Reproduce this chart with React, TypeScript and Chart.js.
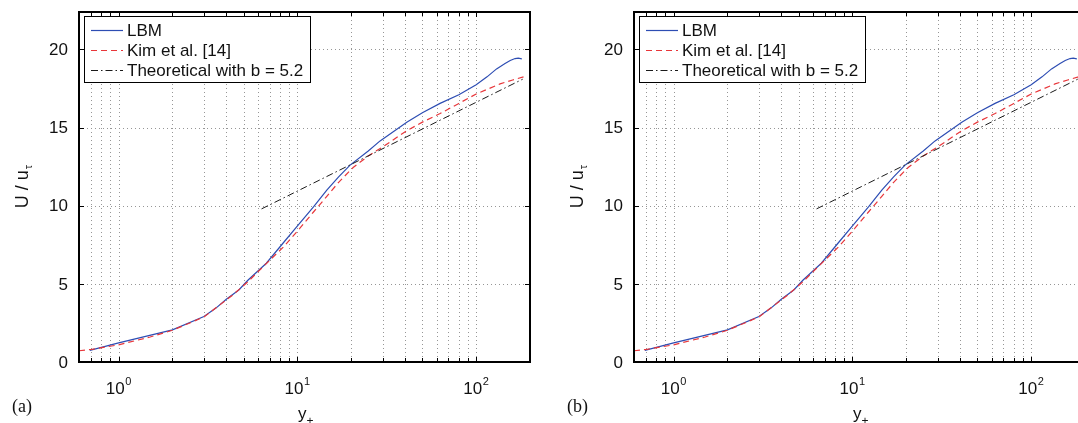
import React, { useEffect, useRef } from 'react';
import { Chart, registerables } from 'chart.js';

Chart.register(...registerables);

// ---- Data ----
const lbmX = [0.69, 1, 2, 3, 3.5, 4, 4.7, 5.3, 6.7, 8.3, 9.9, 12.3, 14.6, 17, 19.7, 24.9, 29, 35, 40.9, 50, 62.8, 80, 100, 115, 130, 145, 155, 165, 172, 180];
const lbmY = [0.74, 1.22, 2.06, 2.91, 3.45, 4.02, 4.61, 5.25, 6.32, 7.6, 8.65, 9.93, 11.0, 11.85, 12.6, 13.5, 14.15, 14.8, 15.35, 15.95, 16.55, 17.1, 17.75, 18.25, 18.76, 19.1, 19.3, 19.42, 19.45, 19.4];

const kimX = [0.6, 0.7, 1, 1.5, 2, 3, 4.36, 5.3, 6.43, 8.33, 10.3, 12.3, 14.6, 17, 20.5, 25, 30.3, 40.9, 50, 62.8, 80, 100, 136, 160, 184];
const kimY = [0.72, 0.8, 1.1, 1.6, 2.03, 2.88, 4.3, 5.15, 6.1, 7.35, 8.55, 9.6, 10.6, 11.5, 12.45, 13.2, 13.8, 14.8, 15.35, 15.9, 16.55, 17.15, 17.8, 18.05, 18.25];

const theoX = [6.3, 182];
const theoY = [9.8, 18.1];

const xMajorTicks = [1, 10, 100];
const xMajorExponents = ['0', '1', '2'];
const xMinorTicks = [0.6, 0.7, 0.8, 0.9, 2, 3, 4, 5, 6, 7, 8, 9, 20, 30, 40, 50, 60, 70, 80, 90, 200];
const yTicks = [0, 5, 10, 15, 20];
const yTickLabels = ['0', '5', '10', '15', '20'];

const legendLabels = ['LBM', 'Kim et al. [14]', 'Theoretical with b = 5.2'];
const panelLabels = ['(a)', '(b)'];
const xTitle = 'y';
const xTitleSub = '+';
const yTitle = 'U / u';
const yTitleSub = 'τ';

const X_MIN = 0.6;
const X_MAX = 200;
const Y_MIN = 0;
const Y_MAX = 22.4;

const SANS = '"Liberation Sans", Arial, Helvetica, sans-serif';
const SERIF = '"Liberation Serif", "Times New Roman", serif';

const styles = [
  { color: '#2d4db3', dash: [] as number[], width: 1.2 },
  { color: '#e8363a', dash: [6, 4], width: 1.2 },
  { color: '#1a1a1a', dash: [7, 3, 1.5, 3], width: 1 },
];

function buildPlugin(panelLabel: string) {
  return {
    id: 'matlabAxes',
    beforeDatasetsDraw(chart: any) {
      const { ctx, chartArea: a, scales } = chart;
      const xs = scales.x;
      const ys = scales.y;
      ctx.save();
      ctx.strokeStyle = '#969696';
      ctx.lineWidth = 1;
      ctx.setLineDash([1, 3]);
      ctx.beginPath();
      for (const v of [...xMinorTicks, ...xMajorTicks]) {
        const px = Math.round(xs.getPixelForValue(v)) + 0.5;
        ctx.moveTo(px, a.top);
        ctx.lineTo(px, a.bottom);
      }
      for (const v of yTicks) {
        const py = Math.round(ys.getPixelForValue(v)) + 0.5;
        ctx.moveTo(a.left, py);
        ctx.lineTo(a.right, py);
      }
      ctx.stroke();
      ctx.restore();
    },
    afterDatasetsDraw(chart: any) {
      const { ctx, chartArea: a, scales } = chart;
      const xs = scales.x;
      const ys = scales.y;
      ctx.save();
      ctx.setLineDash([]);
      // tick marks (inward, all four sides)
      ctx.strokeStyle = '#000';
      ctx.lineWidth = 1;
      ctx.beginPath();
      for (const v of [...xMinorTicks, ...xMajorTicks]) {
        const px = Math.round(xs.getPixelForValue(v)) + 0.5;
        const len = xMajorTicks.includes(v) ? 5 : 4;
        ctx.moveTo(px, a.bottom);
        ctx.lineTo(px, a.bottom - len);
        ctx.moveTo(px, a.top);
        ctx.lineTo(px, a.top + len);
      }
      for (const v of yTicks) {
        const py = Math.round(ys.getPixelForValue(v)) + 0.5;
        ctx.moveTo(a.left, py);
        ctx.lineTo(a.left + 5, py);
        ctx.moveTo(a.right, py);
        ctx.lineTo(a.right - 5, py);
      }
      ctx.stroke();
      // box
      ctx.lineWidth = 2;
      ctx.strokeRect(a.left, a.top, a.right - a.left, a.bottom - a.top);

      // y tick labels
      ctx.fillStyle = '#111';
      ctx.font = `17px ${SANS}`;
      ctx.textAlign = 'right';
      ctx.textBaseline = 'middle';
      yTicks.forEach((v, i) => {
        ctx.fillText(yTickLabels[i], a.left - 11, ys.getPixelForValue(v) + 1);
      });

      // x tick labels: 10^n
      xMajorTicks.forEach((v, i) => {
        const px = xs.getPixelForValue(v);
        ctx.font = `17px ${SANS}`;
        ctx.textAlign = 'right';
        ctx.textBaseline = 'alphabetic';
        ctx.fillText('10', px + 6, a.bottom + 32);
        ctx.font = `11px ${SANS}`;
        ctx.textAlign = 'left';
        ctx.fillText(xMajorExponents[i], px + 6.5, a.bottom + 23);
      });

      // x title
      const cx = (a.left + a.right) / 2;
      ctx.font = `17px ${SANS}`;
      ctx.textAlign = 'right';
      ctx.textBaseline = 'alphabetic';
      ctx.fillText(xTitle, cx + 2, a.bottom + 57);
      ctx.font = `12px ${SANS}`;
      ctx.textAlign = 'left';
      ctx.fillText(xTitleSub, cx + 2, a.bottom + 63);

      // y title (rotated)
      ctx.save();
      ctx.translate(28, (a.top + a.bottom) / 2);
      ctx.rotate(-Math.PI / 2);
      ctx.font = `18px ${SANS}`;
      const w1 = ctx.measureText(yTitle).width;
      ctx.font = `11px ${SANS}`;
      const w2 = ctx.measureText(yTitleSub).width;
      const start = -(w1 + w2) / 2;
      ctx.textAlign = 'left';
      ctx.textBaseline = 'alphabetic';
      ctx.font = `18px ${SANS}`;
      ctx.fillText(yTitle, start, 0);
      ctx.font = `11px ${SANS}`;
      ctx.fillText(yTitleSub, start + w1 + 1, 4);
      ctx.restore();

      // panel label
      ctx.font = `18px ${SERIF}`;
      ctx.textAlign = 'left';
      ctx.textBaseline = 'alphabetic';
      ctx.fillText(panelLabel, 12, 412);

      // legend
      const lx = a.left + 5;
      const ly = a.top + 4;
      const lw = 226;
      const lh = 66;
      ctx.fillStyle = '#fff';
      ctx.fillRect(lx, ly, lw, lh);
      ctx.strokeStyle = '#000';
      ctx.lineWidth = 1;
      ctx.strokeRect(lx + 0.5, ly + 0.5, lw, lh);
      legendLabels.forEach((label, i) => {
        const y = ly + 14 + 20 * i;
        const s = styles[i];
        ctx.save();
        ctx.strokeStyle = s.color;
        ctx.lineWidth = s.width;
        ctx.setLineDash(s.dash);
        ctx.beginPath();
        ctx.moveTo(lx + 7, y + 0.5);
        ctx.lineTo(lx + 39, y + 0.5);
        ctx.stroke();
        ctx.restore();
        ctx.fillStyle = '#111';
        ctx.font = `17px ${SANS}`;
        ctx.textAlign = 'left';
        ctx.textBaseline = 'middle';
        ctx.fillText(label, lx + 43, y + 1);
      });
      ctx.restore();
    },
  };
}

function toPoints(xs: number[], ys: number[]) {
  return xs.map((x, i) => ({ x, y: ys[i] }));
}

function Panel({ label, left }: { label: string; left: number }) {
  const ref = useRef<HTMLCanvasElement | null>(null);
  useEffect(() => {
    if (!ref.current) return;
    const chart = new Chart(ref.current, {
      type: 'line',
      data: {
        datasets: [
          {
            label: legendLabels[0],
            data: toPoints(lbmX, lbmY),
            borderColor: styles[0].color,
            borderWidth: styles[0].width,
            borderDash: styles[0].dash,
            pointRadius: 0,
            tension: 0,
            order: 3,
          },
          {
            label: legendLabels[1],
            data: toPoints(kimX, kimY),
            borderColor: styles[1].color,
            borderWidth: styles[1].width,
            borderDash: styles[1].dash,
            pointRadius: 0,
            tension: 0,
            order: 2,
          },
          {
            label: legendLabels[2],
            data: toPoints(theoX, theoY),
            borderColor: styles[2].color,
            borderWidth: styles[2].width,
            borderDash: styles[2].dash,
            pointRadius: 0,
            tension: 0,
            order: 1,
          },
        ],
      },
      options: {
        animation: false,
        responsive: false,
        devicePixelRatio: 1,
        layout: { padding: { left: 0, top: 12, right: 10, bottom: 0 } },
        plugins: { legend: { display: false }, tooltip: { enabled: false } },
        scales: {
          x: {
            type: 'logarithmic',
            min: X_MIN,
            max: X_MAX,
            ticks: { display: false },
            grid: { display: false },
            border: { display: false },
            afterFit: (s: any) => {
              s.height = 61;
            },
          },
          y: {
            type: 'linear',
            min: Y_MIN,
            max: Y_MAX,
            ticks: { display: false },
            grid: { display: false },
            border: { display: false },
            afterFit: (s: any) => {
              s.width = 79;
            },
          },
        },
      } as any,
      plugins: [buildPlugin(label) as any],
    });
    return () => chart.destroy();
  }, [label]);
  return (
    <div style={{ position: 'absolute', left, top: 0, width: 540, height: 423 }}>
      <canvas ref={ref} width={540} height={423} style={{ width: 540, height: 423, display: 'block' }} />
    </div>
  );
}

export default function App() {
  return (
    <div
      style={{
        position: 'fixed',
        left: 0,
        top: 0,
        width: 1078,
        height: 423,
        overflow: 'hidden',
        background: '#fff',
      }}
    >
      <Panel label={panelLabels[0]} left={0} />
      <Panel label={panelLabels[1]} left={555} />
    </div>
  );
}
